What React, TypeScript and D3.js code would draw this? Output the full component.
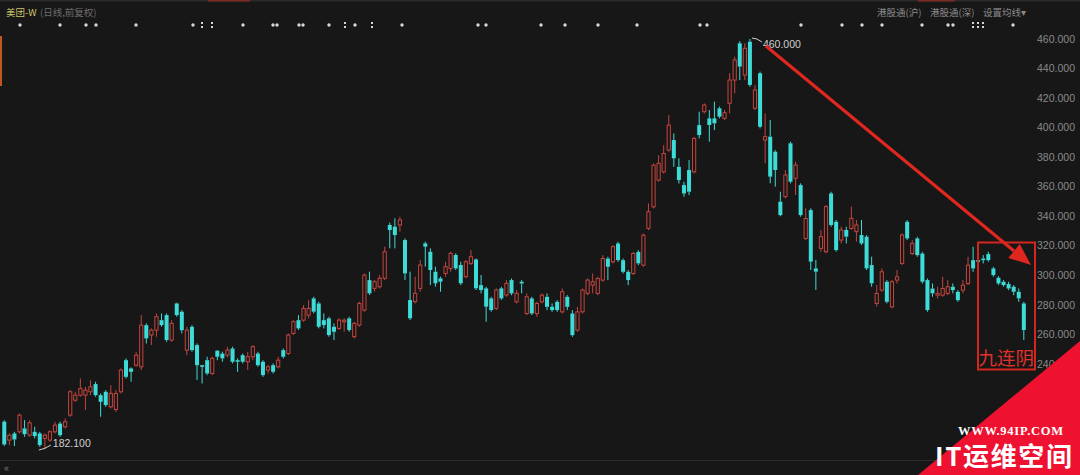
import * as d3 from "d3";
import React from "react";

const W = 1080;
const H = 475;

// daily OHLC (前复权)
const openP = [
	201, 188.5, 193, 194.1, 196.4, 191.8, 194.1, 193, 189.6, 188.5,
	194.1, 199.7, 197.5, 205.4, 215.5, 218.9, 218.9, 221.2, 226.4, 218.9,
	221.2, 211, 209.2, 221.2, 242.6, 237, 239.2, 238.1, 266.3, 259.6,
	262.9, 269.7, 273.1, 256.2, 281, 275.4, 249.4, 265.2, 252.8, 239.2,
	242.6, 233.6, 249, 247.1, 246, 250.5, 242.6, 246, 241.5, 244.9,
	247.1, 241.5, 235.9, 239.2, 238.1, 249.4, 247.1, 260.7, 269.7, 269.7,
	273.1, 284.4, 281, 269.7, 270.9, 265.2, 264.1, 268.6, 270.9, 258.5,
	266.4, 276.5, 296.8, 291.2, 292.3, 298, 334.1, 333, 334.1, 323.9,
	283.3, 282.2, 291.2, 321.7, 316, 302.5, 298, 301.3, 304.7, 313.8,
	307, 299.1, 308.1, 310.8, 293.4, 291.2, 284.4, 277.6, 291.2, 286.7,
	296.8, 282.1, 295.7, 274.2, 284.4, 274.2, 282.1, 285.5, 278.7, 282.1,
	275.3, 285.5, 274.2, 262.9, 275.3, 287.8, 293.4, 287.8, 296.8, 311.4,
	309.2, 321.6, 310.3, 302.4, 301.3, 315.9, 306.9, 331.8, 346.4, 364.5,
	370.1, 384.8, 391.6, 373.5, 361.1, 371.3, 370.1, 401.7, 410.8, 406.3,
	406.3, 413.1, 406.3, 416.5, 432.2, 457.1, 435.6, 458.2, 413.1, 436.8,
	391.6, 393.9, 383.7, 349.9, 353.3, 389.4, 365.7, 361.1, 325, 344.2,
	304.7, 318.3, 316, 355.5, 336.3, 323.9, 330.7, 331.8, 329.6, 327.3,
	326.2, 307, 281, 290, 295.7, 278.7, 296.8, 308.1, 336.3, 314.8,
	325, 314.8, 296.8, 291.1, 286.6, 286.6, 287.8, 292.3, 288.9, 290,
	294.5, 310.3, 310.3, 311.4, 314.4, 304.7, 298.4, 295.7, 294.1, 292.3,
	288.9, 281,
];
const highP = [
	202, 193, 194.1, 206.5, 202, 202, 197.5, 194.1, 193, 195.2,
	200.9, 200.9, 203.1, 222.3, 221.2, 230.2, 224.6, 229.1, 228, 220.1,
	222.3, 225.7, 222.3, 237, 243.8, 237.7, 248.3, 273.1, 267.5, 264.1,
	274.2, 274.2, 274.2, 269.7, 281.5, 276.5, 265.2, 266.3, 253.9, 239.5,
	244.9, 244.9, 249.4, 248.3, 251.7, 251.7, 243.8, 247.1, 248.3, 252.8,
	248.3, 242.6, 239.2, 240.4, 244.9, 250.5, 260.7, 269.7, 273.1, 279.9,
	283.3, 285.5, 282.2, 274.3, 272, 267.5, 270.9, 270.9, 272, 268.6,
	282.2, 301.3, 302.5, 296.8, 300.2, 319.4, 335.7, 338.6, 339.7, 325,
	302.5, 299.1, 310.4, 322.8, 318.3, 305.9, 299.1, 309.2, 316, 314.9,
	309.2, 310.4, 317.1, 311.5, 300.2, 292.3, 285.5, 291.2, 292.3, 296.8,
	297.9, 290, 296.8, 287.8, 285.5, 282.1, 287.8, 287.8, 281, 283.2,
	291.1, 286.6, 276.5, 278.7, 291.1, 297.9, 301.3, 299.1, 313.7, 312.6,
	320.5, 322.7, 311.4, 303.6, 315.9, 317.1, 328.4, 348.7, 375.8, 381.4,
	388.2, 408.5, 396.1, 379.2, 363.4, 378, 393.8, 410.8, 416.4, 411.9,
	417.6, 414.2, 411.9, 436.8, 448, 458.5, 457.1, 460, 428.9, 437.9,
	409.7, 405.2, 384.8, 356.6, 371.3, 390.5, 377, 362.3, 345.4, 345.4,
	310.4, 330.7, 347.6, 356.6, 337.5, 332.9, 332.9, 346.5, 337.5, 337.5,
	327.3, 312.6, 293.5, 304.7, 296.8, 296.8, 303.6, 328.4, 337.4, 323.9,
	326.1, 316, 297.9, 294.5, 292.3, 299, 296.8, 294.5, 290, 296.8,
	312.6, 319.4, 313.7, 313.7, 316, 305.8, 299.5, 296.8, 295.7, 293.4,
	291.1, 282.1,
];
const lowP = [
	184.5, 185, 184.5, 193, 190.7, 190.7, 189.6, 183.9, 182.1, 187.3,
	193, 190.7, 196.4, 204.3, 214.4, 217.8, 208.8, 218.9, 217.8, 204.3,
	211, 209.9, 207.6, 220.1, 230.2, 228, 238.1, 235.9, 253.9, 252.8,
	258.4, 265.2, 255, 255, 272, 260.7, 246, 248.3, 229.1, 226.8,
	232.5, 232.5, 242.6, 241.5, 244.4, 240.4, 234.7, 240.4, 235.9, 242.6,
	238.1, 231.3, 233.6, 233.6, 237, 243.8, 246, 259.6, 263, 268.6,
	270.9, 274.3, 264.1, 264.1, 258.5, 256.2, 263, 261.8, 261.8, 257.3,
	265.2, 275.4, 286.7, 288.9, 291.2, 296.8, 318.3, 318.3, 329.6, 296.8,
	269.7, 281, 288.9, 305.9, 293.4, 292.3, 288.9, 299.1, 302.5, 303.6,
	293.4, 298, 307, 290.1, 287.8, 268.6, 275.4, 276.5, 283.3, 285.5,
	286.6, 281, 287.8, 273.1, 273.1, 272, 281, 276.5, 275.3, 275.3,
	274.2, 276.5, 258.4, 261.8, 274.2, 286.6, 287.8, 286.6, 295.7, 296.8,
	308.1, 309.2, 301.3, 293.4, 300.2, 306.9, 305.8, 330.6, 345.3, 363.4,
	369, 383.7, 373.5, 362.2, 353.2, 354.3, 369, 392.7, 409.6, 390.5,
	398.4, 406.3, 405.2, 409.7, 423.2, 432.2, 432.2, 427.7, 411.9, 399.5,
	375.8, 362.3, 360, 340, 352.1, 362.3, 354.4, 339.7, 323.9, 303.6,
	290.1, 316, 314.9, 332.9, 316, 321.6, 321.6, 330.7, 322.8, 320.5,
	303.6, 292.3, 278.8, 288.9, 281, 277.6, 294.5, 307, 323.9, 313.7,
	312.6, 294.5, 275.4, 285.5, 284.4, 285.5, 286.6, 287.8, 282.1, 287.8,
	293.4, 302.4, 307, 308.1, 309.2, 299, 293.4, 292.3, 290, 286.6,
	282.1, 256.2,
];
const closeP = [
	185.5, 191.8, 188.9, 205.4, 192.5, 200.2, 191.2, 185.1, 191.8, 194.1,
	198.6, 191.8, 200.9, 221.2, 218.9, 223.4, 222.3, 224.6, 218.9, 214.4,
	212.2, 220.1, 220.1, 235.9, 231.3, 234.7, 246, 266.3, 257.3, 262.9,
	272, 266.3, 256.2, 267.5, 273.1, 262.9, 262.9, 249.4, 239.2, 238.1,
	233.6, 243.8, 244.9, 243.8, 249.4, 241.5, 241.5, 241.5, 244.9, 251.7,
	239.2, 232.5, 238.1, 234.7, 242.6, 244.9, 259.6, 268.6, 264.1, 277.6,
	277.6, 275.4, 265.2, 266.4, 259.6, 261.8, 269.7, 269.7, 263, 267.5,
	281, 300.2, 287.8, 295.7, 298, 316, 330.7, 327.3, 337.5, 301.3,
	270.9, 287.8, 307, 319.4, 303.6, 294.6, 295.7, 305.9, 314.9, 304.7,
	294.6, 309.2, 312.6, 291.2, 290.1, 278.8, 276.5, 290.1, 284.4, 294.6,
	287.8, 287.8, 294.5, 285.5, 274.2, 281, 286.6, 278.7, 276.5, 276.5,
	288.9, 278.7, 259.5, 275.3, 290, 296.8, 295.7, 297.9, 311.4, 305.8,
	319.4, 310.3, 302.4, 296.8, 314.8, 308.1, 327.2, 343.1, 374.6, 375.8,
	382.5, 401.7, 379.2, 364.5, 355.4, 356.6, 392.7, 395, 415.3, 401.8,
	402.9, 407.4, 410.1, 432.2, 445.8, 441.3, 453.7, 428.9, 425.5, 400.6,
	393.9, 366.8, 371.3, 340.8, 367.9, 363.4, 374.7, 340.8, 338.5, 309.3,
	302.5, 326.2, 346.5, 334.1, 317.1, 330.7, 326.2, 338.6, 334.1, 321.6,
	304.7, 294.6, 287.8, 302.4, 282.1, 295.7, 299, 327.3, 325, 321.6,
	313.7, 295.7, 276.5, 287.8, 287.8, 291.1, 292.3, 290, 283.2, 293.4,
	306.9, 304.7, 309.2, 310.3, 310.3, 300.2, 294.5, 293.4, 291.1, 288.9,
	284.4, 263,
];

const priceTicks = [460, 440, 420, 400, 380, 360, 340, 320, 300, 280, 260, 240];

// little markers along the top (single dots / stacked pairs)
const dotX = [20, 60, 86, 96, 136, 193, 243, 273, 277, 299, 303, 329, 355, 402, 478, 486, 541, 565, 598, 637, 700, 707, 801, 842, 862, 882, 922, 948, 953, 1013];
const pairX = [202, 212, 345, 372, 973, 978, 983];

const UP = "#c4453f";
const DOWN = "#3ddcd8";
const BG = "#171717";
const GREY = "#8a8a8a";

export default function App() {
	const n = closeP.length;
	const x = d3
		.scaleBand<number>()
		.domain(d3.range(n))
		.range([2.5, 1025.6])
		.paddingInner(0.3);
	const y = d3.scaleLinear().domain([240, 460]).range([364, 39]);
	const cx = (i: number) => (x(i) ?? 0) + x.bandwidth() / 2;
	const bw = 3.2;
	const fmt = d3.format(".3f");

	const iMax = d3.maxIndex(highP);
	const iMin = d3.minIndex(lowP);

	// arrow geometry
	const a0 = [cx(iMax) + 16, y(highP[iMax]) + 7];
	const a1 = [1031, 265];
	const len = Math.hypot(a1[0] - a0[0], a1[1] - a0[1]);
	const ux = (a1[0] - a0[0]) / len;
	const uy = (a1[1] - a0[1]) / len;
	const headL = 22;
	const headW = 9;
	const bx = a1[0] - ux * headL;
	const by = a1[1] - uy * headL;

	return (
		<svg
			width={W}
			height={H}
			style={{ position: "fixed", left: 0, top: 0, display: "block" }}
			fontFamily="'Noto Sans CJK SC', 'Noto Sans', sans-serif"
		>
			<rect width={W} height={H} fill={BG} />
			<rect x={0} y={0} width={W} height={1.5} fill="#2b2b2b" />
			<rect x={208} y={0} width={42} height={1.5} fill="#7a2a22" />
			<rect x={918} y={0} width={37} height={1.5} fill="#7a2a22" />
			<rect x={0} y={36} width={2} height={50} fill="#c2571d" />

			{/* header */}
			<text x={6} y={16} fontSize={9.5} fill="#cdc46a">美团-W</text>
			<text x={40} y={16} fontSize={9.5} fill="#6f6f6f">(日线,前复权)</text>
			<text x={877} y={16} fontSize={9.5} fill={GREY}>港股通(沪)</text>
			<text x={930} y={16} fontSize={9.5} fill={GREY}>港股通(深)</text>
			<text x={983} y={16} fontSize={9.5} fill={GREY}>设置均线▾</text>

			{dotX.map((d, i) => (
				<circle key={"d" + i} cx={d} cy={25} r={1.7} fill="#d6d6d6" />
			))}
			{pairX.map((d, i) => (
				<g key={"p" + i} fill="#d6d6d6">
					<rect x={d - 1} y={22} width={2} height={2} />
					<rect x={d - 1} y={26} width={2} height={2} />
				</g>
			))}

			{/* price axis */}
			{priceTicks.map((t) => (
				<text
					key={t}
					x={1075}
					y={y(t)}
					dy="0.35em"
					textAnchor="end"
					fontSize={10.5}
					fontFamily="'Liberation Sans', Arial, sans-serif"
					fill={GREY}
				>
					{fmt(t)}
				</text>
			))}

			{/* candles */}
			{d3.range(n).map((i) => {
				const o = openP[i];
				const c = closeP[i];
				const up = c > o;
				const col = up ? UP : DOWN;
				const xc = cx(i);
				const top = y(Math.max(o, c));
				const bot = y(Math.min(o, c));
				const h = Math.max(1, bot - top);
				return (
					<g key={i}>
						<line x1={xc} x2={xc} y1={y(highP[i])} y2={top} stroke={col} strokeWidth={1} />
						<line x1={xc} x2={xc} y1={top + h} y2={y(lowP[i])} stroke={col} strokeWidth={1} />
						{up ? (
							<rect x={xc - bw / 2} y={top} width={bw} height={h} fill="none" stroke={col} strokeWidth={1} />
						) : (
							<rect x={xc - bw / 2 - 0.4} y={top} width={bw + 0.8} height={h} fill={col} />
						)}
					</g>
				);
			})}

			{/* extreme labels */}
			<path
				d={`M${cx(iMax) + 2},${y(highP[iMax]) - 1} q5,0 10,4`}
				fill="none"
				stroke="#cfcfcf"
				strokeWidth={1}
			/>
			<text x={cx(iMax) + 13} y={y(highP[iMax]) + 9} fontSize={10.5} fill="#d0d0d0" fontFamily="'Liberation Sans', Arial, sans-serif">
				{fmt(highP[iMax])}
			</text>
			<path
				d={`M${cx(iMin) - 6},${y(lowP[iMin]) + 0.5} q6,-1 12,-5`}
				fill="none"
				stroke="#cfcfcf"
				strokeWidth={1}
			/>
			<text x={cx(iMin) + 8} y={y(lowP[iMin]) - 3} fontSize={10.5} fill="#d0d0d0" fontFamily="'Liberation Sans', Arial, sans-serif">
				{fmt(lowP[iMin])}
			</text>

			{/* red annotation */}
			<line x1={a0[0]} y1={a0[1]} x2={bx} y2={by} stroke="#e0271f" strokeWidth={3.2} />
			<polygon
				points={`${a1[0]},${a1[1]} ${bx - uy * headW},${by + ux * headW} ${bx + uy * headW},${by - ux * headW}`}
				fill="#e0271f"
			/>
			<rect x={978} y={242.5} width={57} height={127} fill="none" stroke="#d4261e" strokeWidth={2} />
			<text x={978.5} y={365} fontSize={18.5} fill="#e0302a">九连阴</text>

			{/* bottom bar */}
			<line x1={0} x2={W} y1={460.5} y2={460.5} stroke="#2a2a2a" />
			<text x={4} y={472} fontSize={11} fill="#777">«</text>

			{/* watermark */}
			<polygon points={`918,${H} ${W},341 ${W},${H}`} fill="#ee1230" />
			<text
				x={958}
				y={435}
				fontSize={12.5}
				fontWeight="bold"
				fill="#fff"
				fontFamily="'Liberation Serif', 'DejaVu Serif', serif"
				textLength={105}
			>
				WWW.94IP.COM
			</text>
			<text x={935} y={466} fontSize={26} fontWeight="bold" fill="#fff" textLength={137}>
				IT运维空间
			</text>
		</svg>
	);
}
